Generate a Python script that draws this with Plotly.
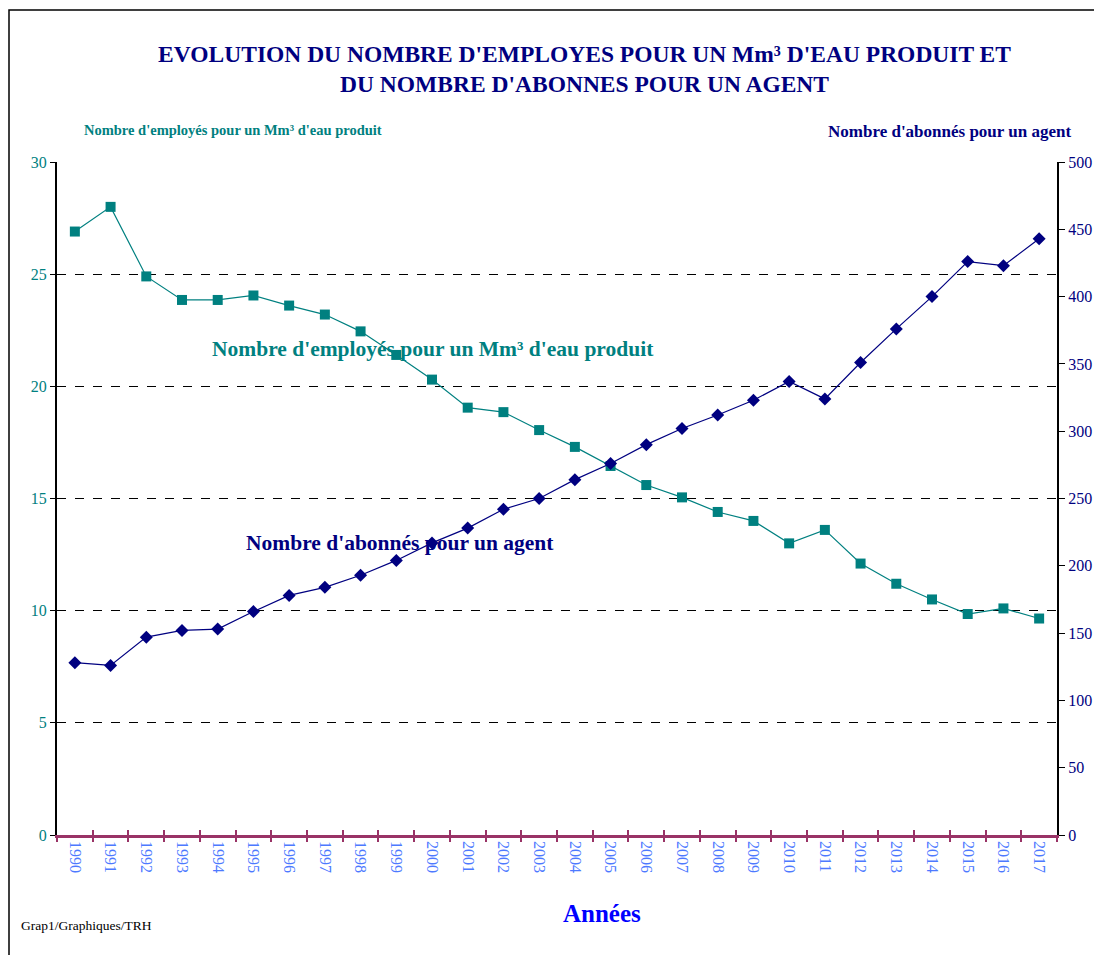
import plotly.graph_objects as go

years = [str(y) for y in range(1990, 2018)]

# Nombre d'employés pour un Mm3 d'eau produit (axe gauche)
employes = [26.9, 28.0, 24.9, 23.85, 23.85, 24.05, 23.6, 23.2, 22.45, 21.4,
            20.3, 19.05, 18.85, 18.05, 17.3, 16.45, 15.6, 15.05, 14.4, 14.0,
            13.0, 13.6, 12.1, 11.2, 10.5, 9.85, 10.1, 9.65]

# Nombre d'abonnés pour un agent (axe droit)
abonnes = [128, 126, 147, 152, 153, 166, 178, 184, 193, 204,
           217, 228, 242, 250, 264, 276, 290, 302, 312, 323,
           337, 324, 351, 376, 400, 426, 423, 443]

left_ticks = [0, 5, 10, 15, 20, 25, 30]
right_ticks = list(range(0, 501, 50))

TEAL = "#008080"
NAVY = "#000080"
MAROON = "#993366"
SERIF = "Liberation Serif, Times New Roman, serif"

fig = go.Figure()
fig.add_trace(go.Scatter(
    x=years, y=employes, mode="lines+markers", yaxis="y",
    line=dict(color=TEAL, width=1.2),
    marker=dict(symbol="square", size=10, color=TEAL),
    showlegend=False,
))
fig.add_trace(go.Scatter(
    x=years, y=abonnes, mode="lines+markers", yaxis="y2",
    line=dict(color=NAVY, width=1.2),
    marker=dict(symbol="diamond", size=10, color=NAVY),
    showlegend=False,
))
# invisible trace to activate the crossing ticks axis
fig.add_trace(go.Scatter(x=years, y=[None] * len(years), xaxis="x2",
                         showlegend=False, hoverinfo="skip"))

xrange = [-0.5, len(years) - 0.5]

fig.update_layout(
    width=1094, height=947,
    margin=dict(l=49, r=45, t=154, b=120, autoexpand=False),
    paper_bgcolor="white", plot_bgcolor="white",
    font=dict(family=SERIF),
    title=dict(
        text="EVOLUTION DU NOMBRE D'EMPLOYES POUR UN Mm³ D'EAU PRODUIT ET<br>DU NOMBRE D'ABONNES POUR UN AGENT",
        x=0.527, xanchor="center", y=0.9435, yanchor="middle",
        font=dict(family=SERIF, size=23.5, color=NAVY, weight="bold"),
    ),
    xaxis=dict(
        type="category", categoryorder="array", categoryarray=years,
        range=xrange, autorange=False,
        tickson="boundaries", ticks="outside", ticklen=4, tickcolor=MAROON,
        tickwidth=1.5,
        showline=True, linecolor=MAROON, linewidth=2.5,
        tickangle=90, tickfont=dict(family=SERIF, size=16, color="#4d79ff"),
        showgrid=False, zeroline=False,
    ),
    xaxis2=dict(
        type="category", categoryorder="array", categoryarray=years,
        range=xrange, autorange=False,
        overlaying="x", tickson="boundaries", ticks="inside", ticklen=5,
        tickcolor=MAROON, tickwidth=1.5, showticklabels=False, showgrid=False,
        showline=False, zeroline=False, anchor="y",
    ),
    yaxis=dict(
        range=[0, 30], tickvals=left_ticks, ticks="outside", ticklen=5,
        tickcolor="black", showline=True, linecolor="black", linewidth=2,
        tickfont=dict(family=SERIF, size=16, color=TEAL),
        showgrid=True, gridcolor="black", griddash="dash", gridwidth=1,
        zeroline=False,
    ),
    yaxis2=dict(
        range=[0, 500], tickvals=right_ticks, overlaying="y", side="right",
        ticks="outside", ticklen=6, tickcolor="black",
        showline=True, linecolor="black", linewidth=2,
        tickfont=dict(family=SERIF, size=16, color=NAVY),
        showgrid=False, zeroline=False,
    ),
)

fig.add_annotation(text="<b>Années</b>",
                   xref="paper", yref="paper", x=0.545, y=-0.117,
                   xanchor="center", yanchor="middle", showarrow=False,
                   font=dict(family=SERIF, size=25, color="#0000ff"))
fig.add_annotation(text="<b>Nombre d'employés pour un Mm³ d'eau produit</b>",
                   xref="paper", yref="paper", x=0.025, y=1.047,
                   xanchor="left", yanchor="middle", showarrow=False,
                   font=dict(family=SERIF, size=14.5, color=TEAL))
fig.add_annotation(text="<b>Nombre d'abonnés pour un agent</b>",
                   xref="paper", yref="paper", x=1.016, y=1.045,
                   xanchor="right", yanchor="middle", showarrow=False,
                   font=dict(family=SERIF, size=17, color=NAVY))
fig.add_annotation(text="<b>Nombre d'employés pour un Mm³ d'eau produit</b>",
                   xref="paper", yref="paper", x=0.376, y=0.722,
                   xanchor="center", yanchor="middle", showarrow=False,
                   font=dict(family=SERIF, size=21.5, color=TEAL))
fig.add_annotation(text="<b>Nombre d'abonnés pour un agent</b>",
                   xref="paper", yref="paper", x=0.343, y=0.434,
                   xanchor="center", yanchor="middle", showarrow=False,
                   font=dict(family=SERIF, size=21.5, color=NAVY))
fig.add_annotation(text="Grap1/Graphiques/TRH",
                   xref="paper", yref="paper", x=-0.038, y=-0.134,
                   xanchor="left", yanchor="middle", showarrow=False,
                   font=dict(family=SERIF, size=13.5, color="black"))

# outer frame
fig.add_shape(type="rect", xref="paper", yref="paper",
              x0=-0.048, x1=1.06, y0=-0.2, y1=1.2259,
              line=dict(color="black", width=1.5), fillcolor="rgba(0,0,0,0)")

fig.write_html("out.html")
